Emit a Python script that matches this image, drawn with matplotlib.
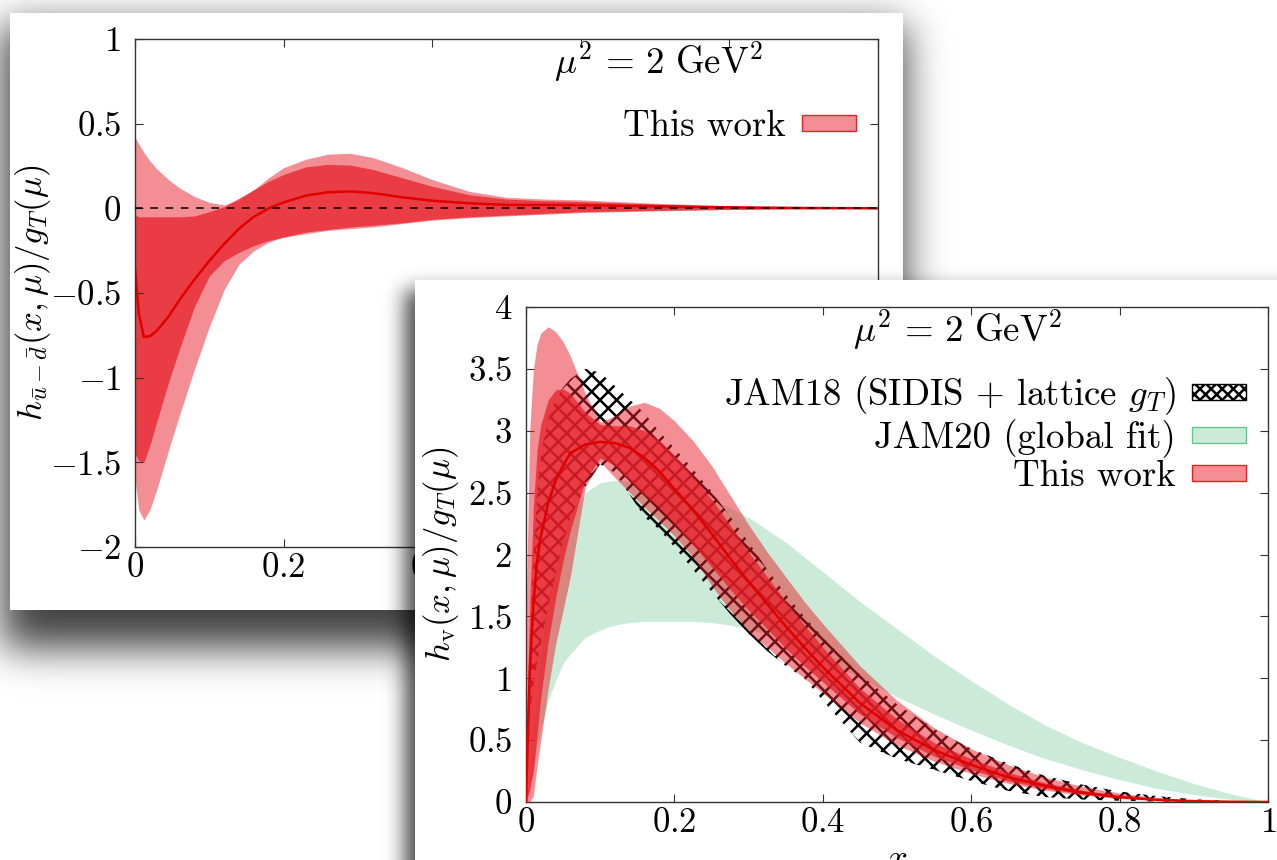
import math
import numpy as np
import matplotlib
matplotlib.use('Agg')
import matplotlib.pyplot as plt
from matplotlib.patches import Patch, Rectangle

# ---- data: upper panel, h_{ubar-dbar}(x) / g_T ----
x1 = [0, 0.005, 0.012, 0.02, 0.03, 0.045, 0.06, 0.08, 0.1, 0.12, 0.14, 0.16,
      0.18, 0.2, 0.23, 0.26, 0.29, 0.32, 0.36, 0.4, 0.45, 0.5, 0.55, 0.6,
      0.7, 0.8, 0.9, 1.0]
sea_mid = [-0.35, -0.62, -0.76, -0.755, -0.72, -0.64, -0.54, -0.42, -0.31, -0.21,
           -0.12, -0.05, 0.0, 0.035, 0.075, 0.095, 0.10, 0.09, 0.065, 0.045,
           0.03, 0.02, 0.02, 0.018, 0.012, 0.006, 0.002, 0.0]
sea_in_hi = [-0.04, -0.05, -0.05, -0.05, -0.05, -0.05, -0.05, -0.045, -0.02, 0.01,
             0.06, 0.11, 0.16, 0.20, 0.245, 0.26, 0.255, 0.23, 0.18, 0.13,
             0.08, 0.055, 0.045, 0.04, 0.025, 0.012, 0.004, 0.0]
sea_in_lo = [-1.45, -1.49, -1.50, -1.40, -1.25, -1.03, -0.83, -0.58, -0.40, -0.31,
             -0.26, -0.22, -0.19, -0.17, -0.14, -0.125, -0.11, -0.10, -0.085, -0.065,
             -0.05, -0.04, -0.03, -0.02, -0.012, -0.006, -0.002, 0.0]
sea_out_hi = [0.42, 0.38, 0.33, 0.28, 0.23, 0.17, 0.12, 0.07, 0.035, 0.02,
              0.05, 0.11, 0.18, 0.24, 0.29, 0.32, 0.325, 0.30, 0.24, 0.17,
              0.10, 0.065, 0.055, 0.05, 0.03, 0.015, 0.005, 0.0]
sea_out_lo = [-1.60, -1.78, -1.84, -1.78, -1.65, -1.43, -1.22, -0.95, -0.70, -0.48,
              -0.33, -0.25, -0.20, -0.17, -0.15, -0.13, -0.12, -0.11, -0.09, -0.07,
              -0.055, -0.045, -0.035, -0.025, -0.015, -0.007, -0.003, 0.0]

# ---- data: lower panel, h_v(x) / g_T ----
x2 = [0, 0.005, 0.01, 0.015, 0.02, 0.03, 0.04, 0.05, 0.06, 0.08, 0.1, 0.12,
      0.14, 0.16, 0.18, 0.2, 0.225, 0.25, 0.275, 0.3, 0.325, 0.35, 0.375, 0.4,
      0.45, 0.5, 0.55, 0.6, 0.65, 0.7, 0.75, 0.8, 0.85, 0.9, 0.95, 1.0]
val_mid = [0.0, 1.05, 1.6, 1.95, 2.15, 2.42, 2.6, 2.72, 2.82, 2.89, 2.91, 2.9,
           2.86, 2.78, 2.67, 2.53, 2.36, 2.17, 1.97, 1.78, 1.6, 1.42, 1.25, 1.09,
           0.8, 0.58, 0.42, 0.3, 0.2, 0.13, 0.075, 0.04, 0.018, 0.007, 0.002, 0.0]
val_in_hi = [0.5, 1.6, 2.4, 2.85, 3.05, 3.25, 3.33, 3.34, 3.3, 3.15, 3.05, 3.04,
             3.04, 3.0, 2.92, 2.8, 2.63, 2.45, 2.24, 2.02, 1.82, 1.62, 1.43, 1.25,
             0.92, 0.67, 0.48, 0.35, 0.24, 0.155, 0.095, 0.05, 0.024, 0.009, 0.002, 0.0]
val_in_lo = [0.0, 0.1, 0.25, 0.55, 0.85, 1.3, 1.65, 1.95, 2.2, 2.6, 2.78, 2.72,
             2.6, 2.48, 2.38, 2.25, 2.08, 1.9, 1.72, 1.55, 1.4, 1.24, 1.1, 0.97,
             0.71, 0.52, 0.37, 0.26, 0.17, 0.11, 0.063, 0.033, 0.014, 0.005, 0.001, 0.0]
val_out_hi = [1.5, 3.0, 3.5, 3.7, 3.79, 3.84, 3.8, 3.72, 3.6, 3.3, 3.07, 3.12,
              3.2, 3.23, 3.18, 3.08, 2.92, 2.72, 2.48, 2.24, 2.02, 1.82, 1.62, 1.44,
              1.1, 0.82, 0.6, 0.43, 0.3, 0.2, 0.125, 0.072, 0.036, 0.015, 0.004, 0.0]
val_out_lo = [0.0, 0.0, 0.05, 0.3, 0.5, 0.92, 1.28, 1.55, 1.83, 2.55, 2.75, 2.62,
              2.5, 2.38, 2.27, 2.15, 1.98, 1.75, 1.55, 1.38, 1.25, 1.12, 1.0, 0.88,
              0.64, 0.46, 0.33, 0.23, 0.15, 0.095, 0.055, 0.028, 0.012, 0.004, 0.001, 0.0]
jam18_hi = [0.0, 1.2, 2.0, 2.5, 2.8, 3.1, 3.25, 3.35, 3.42, 3.5, 3.47, 3.36,
            3.25, 3.14, 2.99, 2.86, 2.69, 2.51, 2.31, 2.1, 1.88, 1.68, 1.5, 1.33,
            1.03, 0.79, 0.59, 0.43, 0.31, 0.21, 0.14, 0.085, 0.048, 0.022, 0.007, 0.0]
jam18_lo = [0.0, 0.7, 0.95, 1.12, 1.28, 1.58, 1.85, 2.1, 2.3, 2.55, 2.73, 2.66,
            2.48, 2.3, 2.2, 2.06, 1.88, 1.7, 1.52, 1.36, 1.22, 1.1, 1.0, 0.82,
            0.48, 0.35, 0.26, 0.17, 0.09, 0.04, 0.02, 0.01, 0.004, 0.001, 0.0, 0.0]
jam20_hi = [0.0, 0.3, 0.6, 0.9, 1.2, 1.65, 1.95, 2.15, 2.3, 2.5, 2.58, 2.6,
            2.59, 2.57, 2.55, 2.52, 2.48, 2.44, 2.38, 2.3, 2.2, 2.1, 1.98, 1.86,
            1.62, 1.4, 1.18, 0.98, 0.79, 0.62, 0.48, 0.36, 0.25, 0.15, 0.065, 0.0]
jam20_lo = [0.0, 0.15, 0.3, 0.45, 0.6, 0.82, 0.98, 1.12, 1.2, 1.33, 1.39, 1.43,
            1.45, 1.46, 1.46, 1.46, 1.46, 1.45, 1.43, 1.4, 1.35, 1.3, 1.23, 1.16,
            1.0, 0.85, 0.71, 0.58, 0.46, 0.35, 0.26, 0.18, 0.11, 0.06, 0.02, 0.0]

xticks = [0, 0.2, 0.4, 0.6, 0.8, 1]
xtick_labels = ['$0$', '$0.2$', '$0.4$', '$0.6$', '$0.8$', '$1$']
yticks1 = [-2, -1.5, -1, -0.5, 0, 0.5, 1]
ytick_labels1 = ['$-2$', '$-1.5$', '$-1$', '$-0.5$', '$0$', '$0.5$', '$1$']
yticks2 = [0, 0.5, 1, 1.5, 2, 2.5, 3, 3.5, 4]
ytick_labels2 = ['$0$', '$0.5$', '$1$', '$1.5$', '$2$', '$2.5$', '$3$', '$3.5$', '$4$']

RED = '#e8202a'
GREEN = (0.2, 0.7, 0.4)
FS = 25
FS_TXT = 26.5

plt.rcParams['font.family'] = 'cmr10'
plt.rcParams['mathtext.fontset'] = 'cm'
plt.rcParams['axes.unicode_minus'] = False
plt.rcParams['hatch.linewidth'] = 1.8

W, H = 1277, 860
fig = plt.figure(figsize=(W / 100, H / 100), dpi=100)


def blur_box(x0, y0, x1, y1, s):
  erf = np.vectorize(math.erf)
  X = np.arange(W) + 0.5
  Y = np.arange(H) + 0.5
  k = s * math.sqrt(2)
  fx = 0.5 * (erf((X - x0) / k) - erf((X - x1) / k))
  fy = 0.5 * (erf((Y - y0) / k) - erf((Y - y1) / k))
  return np.outer(fy, fx)


def add_card(zorder, card, shadow, sigma, strength):
  bg = fig.add_axes([0, 0, 1, 1], zorder=zorder)
  rgba = np.zeros((H, W, 4))
  rgba[..., 3] = strength * blur_box(*shadow, sigma)
  bg.imshow(rgba, extent=(0, W, H, 0), aspect='auto', interpolation='bilinear')
  x0, y0, x1, y1 = card
  bg.add_patch(Rectangle((x0, y0), x1 - x0, y1 - y0,
                         facecolor='white', edgecolor='none'))
  bg.set_xlim(0, W)
  bg.set_ylim(H, 0)
  bg.axis('off')


def style(ax, yticks, ylabels):
  ax.set_xlim(0, 1)
  ax.set_xticks(xticks)
  ax.set_xticklabels(xtick_labels)
  ax.set_yticks(yticks)
  ax.set_yticklabels(ylabels)
  ax.set_ylim(yticks[0], yticks[-1])
  ax.tick_params(direction='in', length=6, width=0.8, top=True, right=True,
                 labelsize=FS, color='#333333')
  ax.tick_params(axis='y', pad=10)
  ax.tick_params(axis='x', pad=4)
  for sp in ax.spines.values():
    sp.set_linewidth(1.0)
    sp.set_color('#333333')


mu_text = r'$\mu^2\,=\,2\ \mathrm{GeV}^2$'

# first card + upper panel
add_card(0, (10, 13, 903, 610), (2, 25, 905, 648), 20, 0.75)
ax1 = fig.add_axes([135 / W, 1 - 547 / H, 743 / W, 508 / H], zorder=1)
ax1.fill_between(x1, sea_out_lo, sea_out_hi, color=RED, alpha=0.5, lw=0)
ax1.fill_between(x1, sea_in_lo, sea_in_hi, color=RED, alpha=0.75, lw=0)
ax1.plot(x1, sea_mid, color='#e00000', lw=1.8)
ax1.axhline(0, color='black', lw=1.1, dashes=(5, 5), zorder=4)
style(ax1, yticks1, ytick_labels1)
ax1.set_ylabel(r'$h_{\bar{u}-\bar{d}}(x,\mu)/g_T(\mu)$', fontsize=FS)
ax1.yaxis.set_label_coords(-0.11, 0.5)
ax1.text(0.705, 0.955, mu_text, transform=ax1.transAxes,
         fontsize=FS_TXT, ha='center', va='center')
leg_red = Patch(facecolor=(*matplotlib.colors.to_rgb(RED), 0.5), edgecolor=RED, lw=1)
ax1.legend([leg_red], ['This work'], loc='upper right', bbox_to_anchor=(0.97, 0.86),
           frameon=False, fontsize=FS_TXT, markerfirst=False, handlelength=1.45,
           handleheight=0.3, handletextpad=0.45, borderpad=0, borderaxespad=0)

# second card + lower panel
add_card(2, (415, 280, 1277, 860), (405, 290, 1300, 900), 10, 0.72)
ax2 = fig.add_axes([526 / W, 1 - 802 / H, 742 / W, 495 / H], zorder=3)
ax2.fill_between(x2, jam20_lo, jam20_hi, color=GREEN, alpha=0.25, lw=0, zorder=1)
ax2.fill_between(x2, jam18_lo, jam18_hi, facecolor='none', edgecolor='black',
                 hatch='xx', lw=0, zorder=2)
ax2.fill_between(x2, val_out_lo, val_out_hi, color=RED, alpha=0.5, lw=0, zorder=3)
ax2.fill_between(x2, val_in_lo, val_in_hi, color=RED, alpha=0.75, lw=0, zorder=4)
ax2.plot(x2, val_mid, color='#e00000', lw=1.8, zorder=5)
style(ax2, yticks2, ytick_labels2)
ax2.set_ylabel(r'$h_{\rm v}(x,\mu)/g_T(\mu)$', fontsize=FS)
ax2.yaxis.set_label_coords(-0.088, 0.5)
ax2.set_xlabel(r'$x$', fontsize=FS)
ax2.xaxis.set_label_coords(0.5, -0.083)
ax2.text(0.582, 0.954, mu_text, transform=ax2.transAxes,
         fontsize=FS_TXT, ha='center', va='center')
handles = [
    Patch(facecolor='white', edgecolor='black', hatch='xxx', lw=1),
    Patch(facecolor=(*GREEN, 0.25), edgecolor=(*GREEN, 0.7), lw=1),
    Patch(facecolor=(*matplotlib.colors.to_rgb(RED), 0.5), edgecolor=RED, lw=1),
]
labels = [r'JAM18 (SIDIS $+$ lattice $g_T$)', 'JAM20 (global fit)', 'This work']
ax2.legend(handles, labels, loc='upper right', bbox_to_anchor=(0.97, 0.864),
           frameon=False, fontsize=FS_TXT, markerfirst=False, handlelength=1.45,
           handleheight=0.3, handletextpad=0.45, labelspacing=0.05,
           borderpad=0, borderaxespad=0)

fig.savefig('out.png', dpi=100, facecolor='white')
